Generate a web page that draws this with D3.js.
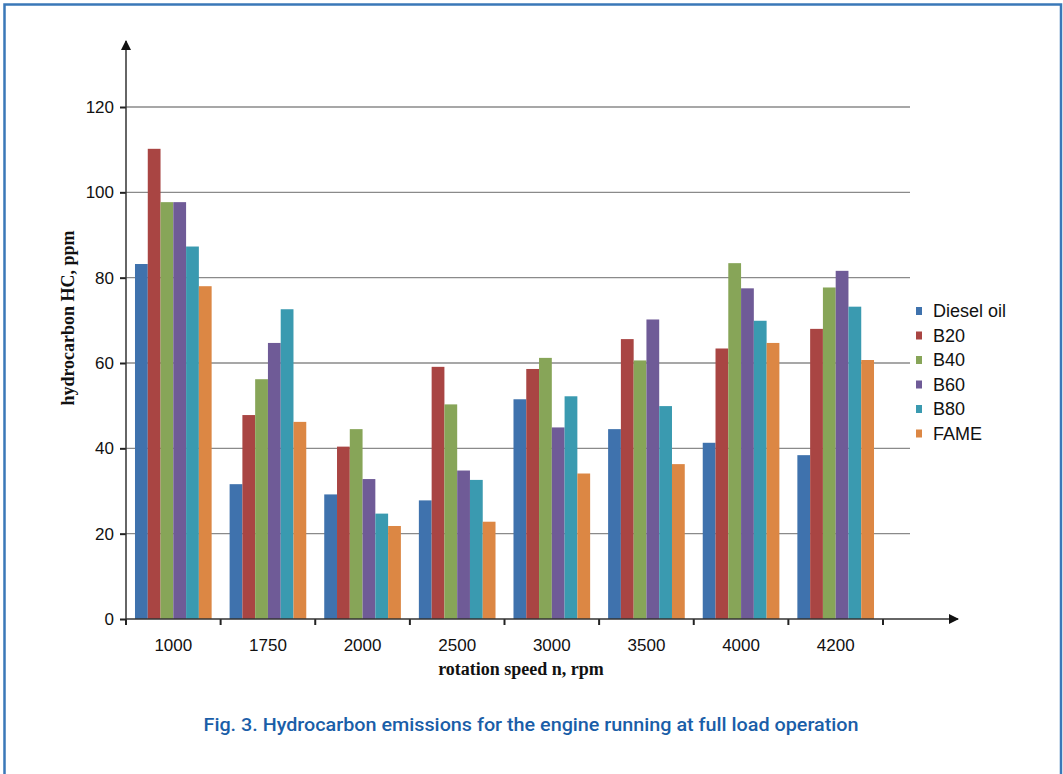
<!DOCTYPE html>
<html lang="en">
<head>
<meta charset="UTF-8">
<title>Hydrocarbon emissions</title>
<script src="https://d3js.org/d3.v7.min.js"></script>
<style>
    html, body { margin: 0; padding: 0; background: #fff; }
    svg { display: block; }
    .tick-label { font-family: "Liberation Sans", Arial, sans-serif; font-size: 17px; fill: #111; }
    .axis-title { font-family: "Liberation Serif", "Times New Roman", serif; font-weight: bold; font-size: 18px; fill: #111; }
    .legend-label { font-family: "Liberation Sans", Arial, sans-serif; font-size: 18px; fill: #111; }
    .caption { font-family: Roboto, "Noto Sans", sans-serif; font-weight: 500; font-size: 18px; fill: #1a5ea8; }
</style>
</head>
<body>
<svg id="canvas" width="1063" height="774"></svg>
<script>
    // categories (rotation speed, rpm)
    const speeds = ["1000", "1750", "2000", "2500", "3000", "3500", "4000", "4200"]
    const fuels = ["Diesel oil", "B20", "B40", "B60", "B80", "FAME"]
    const colors = ["#3f72ad", "#a94543", "#87a558", "#6f5b97", "#3a9ab0", "#dc8744"]

    // HC, ppm per fuel, one value per speed
    const dieselOil = [83.2, 31.6, 29.2, 27.8, 51.5, 44.5, 41.3, 38.4]
    const b20       = [110.2, 47.8, 40.4, 59.1, 58.6, 65.6, 63.4, 68.0]
    const b40       = [97.7, 56.2, 44.5, 50.3, 61.2, 60.6, 83.4, 77.7]
    const b60       = [97.7, 64.7, 32.8, 34.8, 44.9, 70.2, 77.5, 81.6]
    const b80       = [87.3, 72.6, 24.7, 32.6, 52.2, 49.9, 69.9, 73.2]
    const fame      = [78.0, 46.2, 21.8, 22.8, 34.1, 36.3, 64.7, 60.7]
    const series = [dieselOil, b20, b40, b60, b80, fame]

    const yTicks = [0, 20, 40, 60, 80, 100, 120]

    const svg = d3.select("#canvas")

    // figure frame
    svg.append("path")
        .attr("d", "M4.5,790 L4.5,4.5 L1061,4.5 L1061,790")
        .attr("fill", "none")
        .attr("stroke", "#3a78b8")
        .attr("stroke-width", 2.5)

    const left = 126, right = 883, bottom = 619
    const y = d3.scaleLinear().domain([0, 120]).range([bottom, 107])
    const x0 = d3.scaleBand().domain(speeds).range([left, right])
        .paddingInner(0.19).paddingOuter(0.095)
    const x1 = d3.scaleBand().domain(fuels).range([0, x0.bandwidth()])

    // gridlines
    svg.append("g").selectAll("line")
        .data(yTicks.filter(d => d > 0))
        .enter().append("line")
        .attr("x1", left).attr("x2", 910)
        .attr("y1", d => y(d)).attr("y2", d => y(d))
        .attr("stroke", "#8a8a8a").attr("stroke-width", 1.3)

    // bars
    const groups = svg.append("g").selectAll("g")
        .data(speeds)
        .enter().append("g")
        .attr("transform", d => `translate(${x0(d)},0)`)
    groups.selectAll("rect")
        .data((s, i) => fuels.map((f, j) => ({fuel: f, value: series[j][i], color: colors[j]})))
        .enter().append("rect")
        .attr("x", d => x1(d.fuel))
        .attr("width", x1.bandwidth())
        .attr("y", d => y(d.value))
        .attr("height", d => bottom - y(d.value))
        .attr("fill", d => d.color)

    // y axis
    const yAxis = d3.axisLeft(y).tickValues(yTicks).tickSize(6).tickPadding(6)
    const yg = svg.append("g").attr("transform", `translate(${left},0)`).call(yAxis)
    yg.select(".domain").remove()
    yg.attr("font-size", null).attr("font-family", null)
    yg.selectAll(".tick line").attr("stroke", "#222").attr("stroke-width", 2)
    yg.selectAll(".tick text").attr("class", "tick-label")

    // x axis (tick marks at band edges)
    const edges = speeds.map(s => x0(s) - x0.step() * 0.095).concat([right])
    svg.append("g").selectAll("line")
        .data(edges).enter().append("line")
        .attr("x1", d => d).attr("x2", d => d)
        .attr("y1", bottom).attr("y2", bottom + 6)
        .attr("stroke", "#222").attr("stroke-width", 2)
    svg.append("g").selectAll("text")
        .data(speeds).enter().append("text")
        .attr("class", "tick-label")
        .attr("x", d => x0(d) + x0.bandwidth() / 2)
        .attr("y", 651)
        .attr("text-anchor", "middle")
        .text(d => d)

    // axis lines with arrows
    svg.append("defs").append("marker")
        .attr("id", "arrow").attr("viewBox", "0 0 10 10")
        .attr("refX", 9).attr("refY", 5)
        .attr("markerWidth", 12).attr("markerHeight", 10)
        .attr("markerUnits", "userSpaceOnUse")
        .attr("orient", "auto")
        .append("path").attr("d", "M0,0 L10,5 L0,10 z").attr("fill", "#111")
    svg.append("line")
        .attr("x1", left).attr("x2", left).attr("y1", bottom).attr("y2", 41)
        .attr("stroke", "#333").attr("stroke-width", 1.5)
        .attr("marker-end", "url(#arrow)")
    svg.append("line")
        .attr("x1", left).attr("x2", 958).attr("y1", bottom).attr("y2", bottom)
        .attr("stroke", "#333").attr("stroke-width", 1.5)
        .attr("marker-end", "url(#arrow)")

    // axis titles
    svg.append("text").attr("class", "axis-title")
        .attr("x", 521).attr("y", 675).attr("text-anchor", "middle")
        .text("rotation speed n, rpm")
    svg.append("text").attr("class", "axis-title")
        .attr("transform", "translate(74,318) rotate(-90)")
        .attr("text-anchor", "middle")
        .text("hydrocarbon HC, ppm")

    // legend
    const legend = svg.append("g").selectAll("g")
        .data(fuels).enter().append("g")
        .attr("transform", (d, i) => `translate(916,${311 + i * 24.5})`)
    legend.append("rect")
        .attr("x", 0).attr("y", -4).attr("width", 6).attr("height", 8)
        .attr("fill", (d, i) => colors[i])
    legend.append("text").attr("class", "legend-label")
        .attr("x", 17).attr("y", 6)
        .text(d => d)

    // caption
    svg.append("text").attr("class", "caption")
        .attr("x", 531).attr("y", 731).attr("text-anchor", "middle")
        .attr("textLength", 655).attr("lengthAdjust", "spacingAndGlyphs")
        .text("Fig. 3. Hydrocarbon emissions for the engine running at full load operation")
</script>
</body>
</html>
